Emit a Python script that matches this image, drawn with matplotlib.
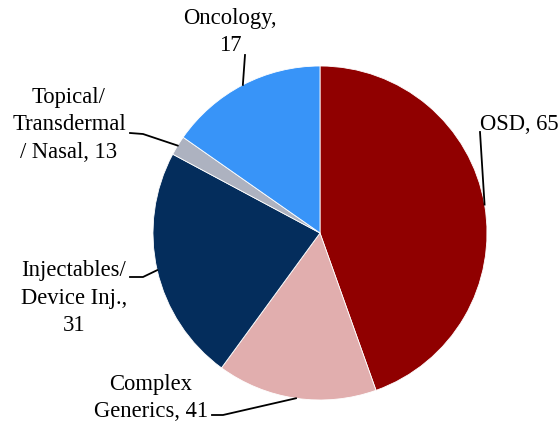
import numpy as np
import matplotlib
matplotlib.use("Agg")
import matplotlib.pyplot as plt

# Data
categories = ["OSD", "Complex Generics", "Injectables/ Device Inj.", "Topical/ Transdermal/ Nasal", "Oncology"]
counts = [65, 41, 31, 13, 17]                 # numbers shown in labels
shares = [44.6, 15.5, 22.8, 1.9, 15.3]        # slice sizes
label_texts = ["OSD, 65", "Complex\nGenerics, 41", "Injectables/\nDevice Inj.,\n31",
               "Topical/\nTransdermal\n/ Nasal, 13", "Oncology,\n17"]
colors = ["#900000", "#E1AEAE", "#042D5C", "#ADB2C0", "#3894F8"]

W, H = 560, 423
fig = plt.figure(figsize=(W / 100, H / 100), dpi=100)
cx, cy, R = 320, 233, 167
ax = fig.add_axes([(cx - R) / W, (H - cy - R) / H, 2 * R / W, 2 * R / H])

wedges, _ = ax.pie(shares, colors=colors, startangle=90, counterclock=False,
                   radius=1, wedgeprops=dict(linewidth=0.6, edgecolor="white"))
ax.set_xlim(-1, 1)
ax.set_ylim(-1, 1)
ax.set_aspect("equal")
ax.axis("off")

def d(px, py):
    return ((px - cx) / R, (cy - py) / R)

# label centre positions (pixels) and leader anchor points (pixels)
label_pos = [(519, 124), (151, 398), (74, 298), (69, 125), (230, 32)]
leader_start = [[(480, 132)], [(212, 415), (223, 415)], [(130, 277), (143, 277)],
                [(130, 133), (143, 134)], [(245, 55)]]

font = dict(family=["Liberation Serif", "DejaVu Serif"], size=16.3)
for w, txt, pos, pts in zip(wedges, label_texts, label_pos, leader_start):
    ang = np.deg2rad((w.theta1 + w.theta2) / 2)
    ex, ey = np.cos(ang), np.sin(ang)
    x0, y0 = d(*pos)
    ax.text(x0, y0, txt, ha="center", va="center", linespacing=1.38,
            clip_on=False, **font)
    xs = [d(*p)[0] for p in pts] + [ex]
    ys = [d(*p)[1] for p in pts] + [ey]
    ax.plot(xs, ys, color="black", lw=1.3, clip_on=False)

fig.savefig("out.png", dpi=100)
